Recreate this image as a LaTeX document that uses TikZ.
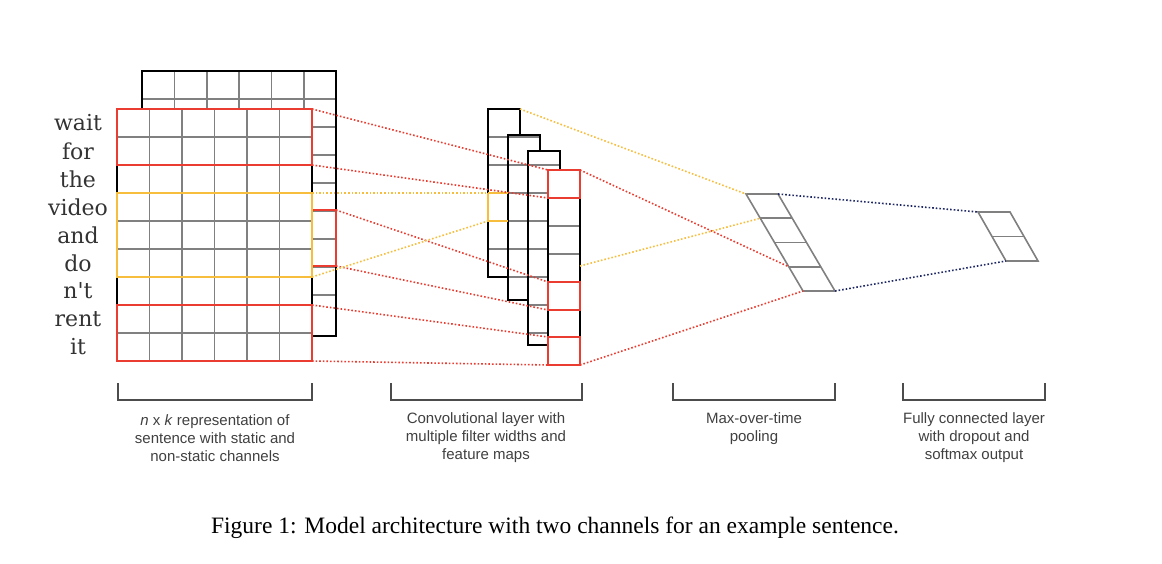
\documentclass[tikz,border=0pt]{standalone}
\usepackage{fontspec}
\setmainfont{Liberation Serif}
\newfontfamily\lblfont{Liberation Sans}
\newfontfamily\wordfont{DejaVu Serif}
\usetikzlibrary{calc}
\definecolor{cred}{RGB}{234,60,48}
\definecolor{cyel}{RGB}{246,190,60}
\definecolor{cnavy}{RGB}{30,40,100}
\definecolor{cgrid}{RGB}{128,128,128}
\tikzset{
  grid/.style={draw=cgrid, line width=1.6pt},
  frame/.style={draw=black, line width=1.8pt},
  hl/.style={line width=2.8pt},
  link/.style={dotted, line width=1.6pt},
  lbl/.style={font=\lblfont\fontsize{15}{18}\selectfont, text=black!75, align=center},
  bracket/.style={draw=black!70, line width=1.3pt},
}
\begin{document}
\begin{tikzpicture}[x=1pt, y=-1pt]
    \useasboundingbox (0,0) rectangle (1162,564);
    % back channel
    \fill[white] (142,71) rectangle (336,336);
    \foreach \i in {99,127,...,320} \draw[grid] (142,\i) -- (336,\i);
    \foreach \j in {174.3,206.7,239,271.3,303.7} \draw[grid] (\j,71) -- (\j,109);
    \draw[frame] (142,71) rectangle (336,336);
    \draw[cred, hl] (312,210) rectangle (336,266);
    % front channel
    \fill[white] (117,109) rectangle (312,361);
    \foreach \i in {137,165,...,340} \draw[grid] (117,\i) -- (312,\i);
    \foreach \j in {149.5,182,214.5,247,279.5} \draw[grid] (\j,109) -- (\j,361);
    \draw[frame] (117,109) rectangle (312,361);
    \draw[cred, hl] (117,109) rectangle (312,165);
    \draw[cyel, hl] (117,193) rectangle (312,277);
    \draw[cred, hl] (117,305) rectangle (312,361);
    \foreach \w [count=\k from 0] in {wait,for,the,video,and,do,n't,rent,it}
        \node[font=\wordfont\fontsize{22}{25}\selectfont, text=black!80] (w\k) at (78,{123+28*\k}) {\w};
    % feature maps
    \foreach \x/\top/\bot in {488/109/277, 508/135/300, 528/151/345} {
        \fill[white] (\x,\top) rectangle ({\x+32},\bot);
        \begin{scope}
            \clip (\x,\top) rectangle ({\x+32},\bot);
            \foreach \i in {137,165,...,345} \draw[grid] (\x,\i) -- ({\x+32},\i);
        \end{scope}
        \draw[frame] (\x,\top) rectangle ({\x+32},\bot);
    }
    \draw[cyel, hl] (488,193) -- (508,193) (488,193) -- (488,221) -- (508,221);
    \fill[white] (548,170) rectangle (580,365);
    \foreach \i in {198,226,254,282,310,337} \draw[grid] (548,\i) -- (580,\i);
    \draw[frame] (548,170) rectangle (580,365);
    \draw[cred, hl] (548,170) rectangle (580,198);
    \draw[cred, hl] (548,282) rectangle (580,310);
    \draw[cred, hl] (548,337) rectangle (580,365);
    % pooling and output
    \draw[grid] (746,194) -- (778,194) -- (835,291) -- (803,291) -- cycle;
    \foreach \k in {1,2,3} \draw[grid] ({746+14.25*\k},{194+24.25*\k}) -- ++(32,0);
    \draw[grid] (978,212) -- (1010,212) -- (1038,261) -- (1006,261) -- cycle;
    \draw[grid] (992,236.5) -- ++(32,0);
    % connections
    \draw[cred, link] (312,109) -- (548,170);
    \draw[cred, link] (312,165) -- (548,198);
    \draw[cred, link] (336,210) -- (548,282);
    \draw[cred, link] (336,266) -- (548,310);
    \draw[cred, link] (312,305) -- (548,337);
    \draw[cred, link] (312,361) -- (548,365);
    \draw[cyel, link] (312,193) -- (488,193);
    \draw[cyel, link] (312,277) -- (488,221);
    \draw[cyel, link] (520,109) -- (746,194);
    \draw[cyel, link] (580,266) -- (760.25,218.25);
    \draw[cred, link] (580,170) -- (788.75,266.75);
    \draw[cred, link] (580,365) -- (803,291);
    \draw[cnavy, link] (778,194) -- (978,212);
    \draw[cnavy, link] (835,291) -- (1006,261);
    % brackets and labels
    \foreach \a/\b in {118/312, 391/582, 673/835, 903/1045}
        \draw[bracket] (\a,383) -- (\a,400) -- (\b,400) -- (\b,383);
    \node[lbl] (l1) at (215,438) {\textit{n} x \textit{k} representation of\\sentence with static and\\non-static channels};
    \node[lbl] (l2) at (486,438) {Convolutional layer with\\multiple filter widths and\\feature maps};
    \node[lbl] (l3) at (754,429) {Max-over-time\\pooling};
    \node[lbl] (l4) at (974,438) {Fully connected layer\\with dropout and\\softmax output};
    \node[font=\fontsize{23.5}{27}\selectfont] (cap) at (555,528) {Figure 1: Model architecture with two channels for an example sentence.};
\end{tikzpicture}
\end{document}
